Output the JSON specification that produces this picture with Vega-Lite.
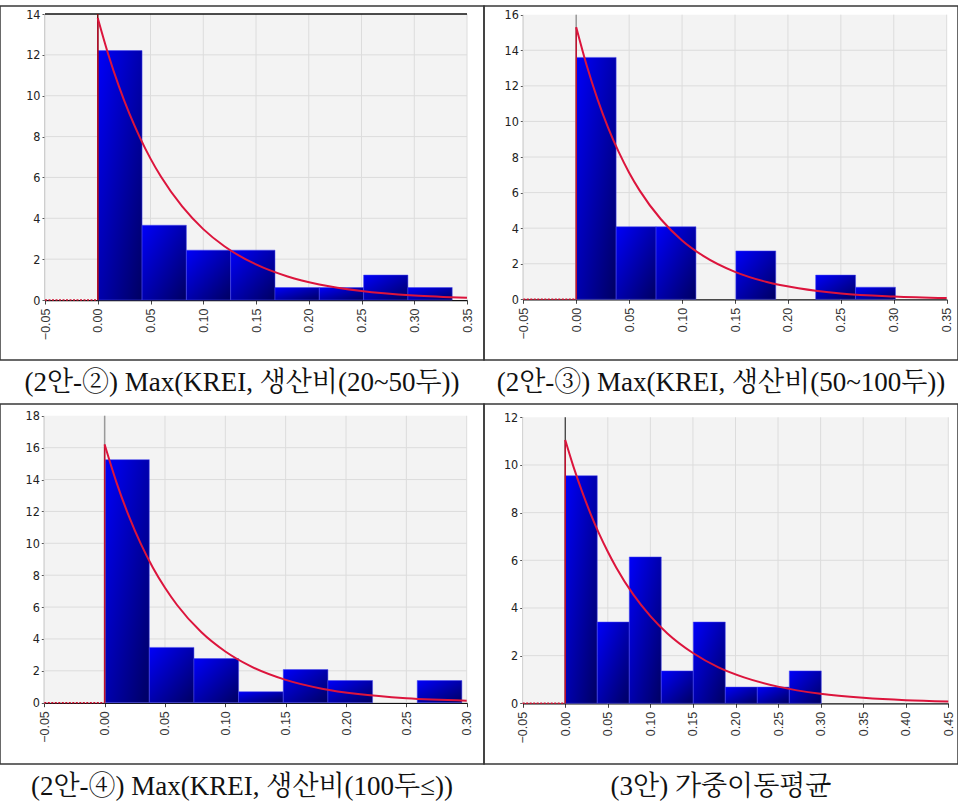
{
  "$schema": "https://vega.github.io/schema/vega-lite/v6.json",
  "background": "white",
  "padding": {"left": -1, "top": 5, "right": 0, "bottom": 0},
  "spacing": 0,
  "bounds": "flush",
  "columns": 2,
  "concat": [
    {
      "width": 484,
      "height": 354,
      "layer": [
        {
          "data": {"values": [{}]},
          "mark": {"type": "rect", "color": "#f3f3f3"},
          "encoding": {
            "x": {"datum": -0.05, "type": "quantitative", "scale": {"domain": [-0.05, 0.35], "range": [45, 467], "nice": false, "zero": false}, "axis": {"title": null, "labelOverlap": false, "values": [-0.05, 0, 0.05, 0.1, 0.15, 0.2, 0.25, 0.3, 0.35], "offset": -60}},
            "x2": {"datum": 0.35},
            "y": {"datum": 0, "type": "quantitative", "scale": {"domain": [0, 14], "range": [294, 8], "nice": false, "zero": false}, "axis": {"title": null, "labelOverlap": false, "values": [0, 2, 4, 6, 8, 10, 12, 14], "offset": -45}},
            "y2": {"datum": 14}
          }
        },
        {
          "data": {"values": [{"t": -0.05}, {"t": 0}, {"t": 0.05}, {"t": 0.1}, {"t": 0.15}, {"t": 0.2}, {"t": 0.25}, {"t": 0.3}, {"t": 0.35}]},
          "mark": {"type": "rule", "color": "#dcdcdc", "strokeWidth": 1},
          "encoding": {"x": {"field": "t", "type": "quantitative"}, "y": {"datum": 0}, "y2": {"datum": 14}}
        },
        {
          "data": {"values": [{"t": 2}, {"t": 4}, {"t": 6}, {"t": 8}, {"t": 10}, {"t": 12}]},
          "mark": {"type": "rule", "color": "#dcdcdc", "strokeWidth": 1},
          "encoding": {"y": {"field": "t", "type": "quantitative"}, "x": {"datum": -0.05}, "x2": {"datum": 0.35}}
        },
        {
          "data": {"values": [{}]},
          "mark": {"type": "rule", "color": "#111111", "strokeWidth": 1.5},
          "encoding": {"y": {"datum": 14}, "x": {"datum": -0.05}, "x2": {"datum": 0.35}}
        },
        {
          "data": {"values": [
            {"lo": 0, "hi": 0.042, "density": 12.21},
            {"lo": 0.042, "hi": 0.084, "density": 3.66},
            {"lo": 0.084, "hi": 0.126, "density": 2.44},
            {"lo": 0.126, "hi": 0.168, "density": 2.44},
            {"lo": 0.168, "hi": 0.21, "density": 0.61},
            {"lo": 0.21, "hi": 0.252, "density": 0.61},
            {"lo": 0.252, "hi": 0.294, "density": 1.22},
            {"lo": 0.294, "hi": 0.336, "density": 0.61}
          ]},
          "mark": {"type": "rect", "stroke": "#4848f0", "strokeWidth": 0.5, "color": {"gradient": "linear", "x1": 0, "y1": 0, "x2": 1, "y2": 1, "stops": [{"offset": 0, "color": "#0000fa"}, {"offset": 1, "color": "#000062"}]}},
          "encoding": {"x": {"field": "lo", "type": "quantitative"}, "x2": {"field": "hi"}, "y": {"field": "density", "type": "quantitative"}, "y2": {"datum": 0}}
        },
        {
          "data": {"values": [{}]},
          "mark": {"type": "rule", "color": "#7a1010", "strokeWidth": 1.5},
          "encoding": {"x": {"datum": 0}, "y": {"datum": 0}, "y2": {"datum": 14}}
        },
        {
          "data": {"values": [{}]},
          "mark": {"type": "rule", "color": "#d01030", "strokeWidth": 1.5, "strokeDash": [2, 1.5]},
          "encoding": {"x": {"datum": -0.05}, "x2": {"datum": 0}, "y": {"datum": 0}}
        },
        {
          "data": {"values": [{}]},
          "mark": {"type": "rule", "color": "#b0102a", "strokeWidth": 1.5},
          "encoding": {"x": {"datum": 0}, "y": {"datum": 0}, "y2": {"datum": 13.8}}
        },
        {
          "data": {"values": [
            {"x": 0, "density": 13.8}, {"x": 0.01, "density": 12.02}, {"x": 0.02, "density": 10.47}, {"x": 0.03, "density": 9.12},
            {"x": 0.04, "density": 7.95}, {"x": 0.05, "density": 6.92}, {"x": 0.06, "density": 6.03}, {"x": 0.08, "density": 4.58},
            {"x": 0.1, "density": 3.47}, {"x": 0.12, "density": 2.63}, {"x": 0.15, "density": 1.74}, {"x": 0.18, "density": 1.15},
            {"x": 0.21, "density": 0.76}, {"x": 0.25, "density": 0.44}, {"x": 0.3, "density": 0.22}, {"x": 0.35, "density": 0.11}
          ]},
          "mark": {"type": "line", "color": "#dc143c", "strokeWidth": 2, "interpolate": "monotone"},
          "encoding": {"x": {"field": "x", "type": "quantitative"}, "y": {"field": "density", "type": "quantitative"}}
        }
      ]
    },
    {
      "width": 474,
      "height": 354,
      "layer": [
        {
          "data": {"values": [{}]},
          "mark": {"type": "rect", "color": "#f3f3f3"},
          "encoding": {
            "x": {"datum": -0.05, "type": "quantitative", "scale": {"domain": [-0.05, 0.35], "range": [39.3, 462.7], "nice": false, "zero": false}, "axis": {"title": null, "labelOverlap": false, "values": [-0.05, 0, 0.05, 0.1, 0.15, 0.2, 0.25, 0.3, 0.35], "offset": -60.7}},
            "x2": {"datum": 0.35},
            "y": {"datum": 0, "type": "quantitative", "scale": {"domain": [0, 16], "range": [293.3, 8.7], "nice": false, "zero": false}, "axis": {"title": null, "labelOverlap": false, "values": [0, 2, 4, 6, 8, 10, 12, 14, 16], "offset": -39.3}},
            "y2": {"datum": 16}
          }
        },
        {
          "data": {"values": [{"t": -0.05}, {"t": 0}, {"t": 0.05}, {"t": 0.1}, {"t": 0.15}, {"t": 0.2}, {"t": 0.25}, {"t": 0.3}, {"t": 0.35}]},
          "mark": {"type": "rule", "color": "#dcdcdc", "strokeWidth": 1},
          "encoding": {"x": {"field": "t", "type": "quantitative"}, "y": {"datum": 0}, "y2": {"datum": 16}}
        },
        {
          "data": {"values": [{"t": 2}, {"t": 4}, {"t": 6}, {"t": 8}, {"t": 10}, {"t": 12}, {"t": 14}]},
          "mark": {"type": "rule", "color": "#dcdcdc", "strokeWidth": 1},
          "encoding": {"y": {"field": "t", "type": "quantitative"}, "x": {"datum": -0.05}, "x2": {"datum": 0.35}}
        },
        {
          "data": {"values": [
            {"lo": 0, "hi": 0.0377, "density": 13.6},
            {"lo": 0.0377, "hi": 0.0754, "density": 4.08},
            {"lo": 0.0754, "hi": 0.1131, "density": 4.08},
            {"lo": 0.1508, "hi": 0.1885, "density": 2.72},
            {"lo": 0.2262, "hi": 0.2639, "density": 1.36},
            {"lo": 0.2639, "hi": 0.3016, "density": 0.68}
          ]},
          "mark": {"type": "rect", "stroke": "#4848f0", "strokeWidth": 0.5, "color": {"gradient": "linear", "x1": 0, "y1": 0, "x2": 1, "y2": 1, "stops": [{"offset": 0, "color": "#0000fa"}, {"offset": 1, "color": "#000062"}]}},
          "encoding": {"x": {"field": "lo", "type": "quantitative"}, "x2": {"field": "hi"}, "y": {"field": "density", "type": "quantitative"}, "y2": {"datum": 0}}
        },
        {
          "data": {"values": [{}]},
          "mark": {"type": "rule", "color": "#9a9a9a", "strokeWidth": 1.5},
          "encoding": {"x": {"datum": 0}, "y": {"datum": 0}, "y2": {"datum": 16}}
        },
        {
          "data": {"values": [{}]},
          "mark": {"type": "rule", "color": "#d01030", "strokeWidth": 1.5, "strokeDash": [2, 1.5]},
          "encoding": {"x": {"datum": -0.05}, "x2": {"datum": 0}, "y": {"datum": 0}}
        },
        {
          "data": {"values": [{}]},
          "mark": {"type": "rule", "color": "#c0102e", "strokeWidth": 1.5},
          "encoding": {"x": {"datum": 0}, "y": {"datum": 0}, "y2": {"datum": 15.3}}
        },
        {
          "data": {"values": [
            {"x": 0, "density": 15.3}, {"x": 0.01, "density": 13.13}, {"x": 0.02, "density": 11.27}, {"x": 0.03, "density": 9.67},
            {"x": 0.04, "density": 8.3}, {"x": 0.05, "density": 7.12}, {"x": 0.06, "density": 6.11}, {"x": 0.08, "density": 4.5},
            {"x": 0.1, "density": 3.31}, {"x": 0.12, "density": 2.44}, {"x": 0.15, "density": 1.54}, {"x": 0.18, "density": 0.97},
            {"x": 0.21, "density": 0.62}, {"x": 0.25, "density": 0.33}, {"x": 0.3, "density": 0.16}, {"x": 0.35, "density": 0.07}
          ]},
          "mark": {"type": "line", "color": "#dc143c", "strokeWidth": 2, "interpolate": "monotone"},
          "encoding": {"x": {"field": "x", "type": "quantitative"}, "y": {"field": "density", "type": "quantitative"}}
        }
      ]
    },
    {
      "width": 484,
      "height": 44,
      "data": {"values": [{"caption": "(2안-②) Max(KREI, 생산비(20~50두))"}]},
      "mark": {"type": "text", "font": "Liberation Serif, Noto Serif CJK KR, Noto Sans CJK KR", "fontSize": 27, "color": "#111111", "dy": 1},
      "encoding": {"text": {"field": "caption"}}
    },
    {
      "width": 474,
      "height": 44,
      "data": {"values": [{"caption": "(2안-③) Max(KREI, 생산비(50~100두))"}]},
      "mark": {"type": "text", "font": "Liberation Serif, Noto Serif CJK KR, Noto Sans CJK KR", "fontSize": 27, "color": "#111111", "dy": 1},
      "encoding": {"text": {"field": "caption"}}
    },
    {
      "width": 484,
      "height": 360,
      "layer": [
        {
          "data": {"values": [{}]},
          "mark": {"type": "rect", "color": "#f3f3f3"},
          "encoding": {
            "x": {"datum": -0.05, "type": "quantitative", "scale": {"domain": [-0.05, 0.3], "range": [44.3, 466.7], "nice": false, "zero": false}, "axis": {"title": null, "labelOverlap": false, "values": [-0.05, 0, 0.05, 0.1, 0.15, 0.2, 0.25, 0.3], "offset": -61.3}},
            "x2": {"datum": 0.3},
            "y": {"datum": 0, "type": "quantitative", "scale": {"domain": [0, 18], "range": [298.7, 11.8], "nice": false, "zero": false}, "axis": {"title": null, "labelOverlap": false, "values": [0, 2, 4, 6, 8, 10, 12, 14, 16, 18], "offset": -44.3}},
            "y2": {"datum": 18}
          }
        },
        {
          "data": {"values": [{"t": -0.05}, {"t": 0}, {"t": 0.05}, {"t": 0.1}, {"t": 0.15}, {"t": 0.2}, {"t": 0.25}, {"t": 0.3}]},
          "mark": {"type": "rule", "color": "#dcdcdc", "strokeWidth": 1},
          "encoding": {"x": {"field": "t", "type": "quantitative"}, "y": {"datum": 0}, "y2": {"datum": 18}}
        },
        {
          "data": {"values": [{"t": 2}, {"t": 4}, {"t": 6}, {"t": 8}, {"t": 10}, {"t": 12}, {"t": 14}, {"t": 16}]},
          "mark": {"type": "rule", "color": "#dcdcdc", "strokeWidth": 1},
          "encoding": {"y": {"field": "t", "type": "quantitative"}, "x": {"datum": -0.05}, "x2": {"datum": 0.3}}
        },
        {
          "data": {"values": [
            {"lo": 0, "hi": 0.037, "density": 15.25},
            {"lo": 0.037, "hi": 0.074, "density": 3.47},
            {"lo": 0.074, "hi": 0.111, "density": 2.77},
            {"lo": 0.111, "hi": 0.148, "density": 0.69},
            {"lo": 0.148, "hi": 0.185, "density": 2.08},
            {"lo": 0.185, "hi": 0.222, "density": 1.39},
            {"lo": 0.259, "hi": 0.296, "density": 1.39}
          ]},
          "mark": {"type": "rect", "stroke": "#4848f0", "strokeWidth": 0.5, "color": {"gradient": "linear", "x1": 0, "y1": 0, "x2": 1, "y2": 1, "stops": [{"offset": 0, "color": "#0000fa"}, {"offset": 1, "color": "#000062"}]}},
          "encoding": {"x": {"field": "lo", "type": "quantitative"}, "x2": {"field": "hi"}, "y": {"field": "density", "type": "quantitative"}, "y2": {"datum": 0}}
        },
        {
          "data": {"values": [{}]},
          "mark": {"type": "rule", "color": "#9a9a9a", "strokeWidth": 1.5},
          "encoding": {"x": {"datum": 0}, "y": {"datum": 0}, "y2": {"datum": 18}}
        },
        {
          "data": {"values": [{}]},
          "mark": {"type": "rule", "color": "#d01030", "strokeWidth": 1.5, "strokeDash": [2, 1.5]},
          "encoding": {"x": {"datum": -0.05}, "x2": {"datum": 0}, "y": {"datum": 0}}
        },
        {
          "data": {"values": [{}]},
          "mark": {"type": "rule", "color": "#c0102e", "strokeWidth": 1.5},
          "encoding": {"x": {"datum": 0}, "y": {"datum": 0}, "y2": {"datum": 16.2}}
        },
        {
          "data": {"values": [
            {"x": 0, "density": 16.2}, {"x": 0.01, "density": 13.78}, {"x": 0.02, "density": 11.72}, {"x": 0.03, "density": 9.96},
            {"x": 0.04, "density": 8.47}, {"x": 0.05, "density": 7.21}, {"x": 0.06, "density": 6.13}, {"x": 0.08, "density": 4.43},
            {"x": 0.1, "density": 3.21}, {"x": 0.12, "density": 2.32}, {"x": 0.15, "density": 1.43}, {"x": 0.18, "density": 0.88},
            {"x": 0.21, "density": 0.54}, {"x": 0.25, "density": 0.28}, {"x": 0.3, "density": 0.13}
          ]},
          "mark": {"type": "line", "color": "#dc143c", "strokeWidth": 2, "interpolate": "monotone"},
          "encoding": {"x": {"field": "x", "type": "quantitative"}, "y": {"field": "density", "type": "quantitative"}}
        }
      ]
    },
    {
      "width": 474,
      "height": 360,
      "layer": [
        {
          "data": {"values": [{}]},
          "mark": {"type": "rect", "color": "#f3f3f3"},
          "encoding": {
            "x": {"datum": -0.05, "type": "quantitative", "scale": {"domain": [-0.05, 0.45], "range": [38.7, 464.3], "nice": false, "zero": false}, "axis": {"title": null, "labelOverlap": false, "values": [-0.05, 0, 0.05, 0.1, 0.15, 0.2, 0.25, 0.3, 0.35, 0.4, 0.45], "offset": -60.7}},
            "x2": {"datum": 0.45},
            "y": {"datum": 0, "type": "quantitative", "scale": {"domain": [0, 12], "range": [299.3, 13.3], "nice": false, "zero": false}, "axis": {"title": null, "labelOverlap": false, "values": [0, 2, 4, 6, 8, 10, 12], "offset": -38.7}},
            "y2": {"datum": 12}
          }
        },
        {
          "data": {"values": [{"t": -0.05}, {"t": 0}, {"t": 0.05}, {"t": 0.1}, {"t": 0.15}, {"t": 0.2}, {"t": 0.25}, {"t": 0.3}, {"t": 0.35}, {"t": 0.4}, {"t": 0.45}]},
          "mark": {"type": "rule", "color": "#dcdcdc", "strokeWidth": 1},
          "encoding": {"x": {"field": "t", "type": "quantitative"}, "y": {"datum": 0}, "y2": {"datum": 12}}
        },
        {
          "data": {"values": [{"t": 2}, {"t": 4}, {"t": 6}, {"t": 8}, {"t": 10}]},
          "mark": {"type": "rule", "color": "#dcdcdc", "strokeWidth": 1},
          "encoding": {"y": {"field": "t", "type": "quantitative"}, "x": {"datum": -0.05}, "x2": {"datum": 0.45}}
        },
        {
          "data": {"values": [
            {"lo": 0, "hi": 0.0376, "density": 9.55},
            {"lo": 0.0376, "hi": 0.0752, "density": 3.41},
            {"lo": 0.0752, "hi": 0.1128, "density": 6.14},
            {"lo": 0.1128, "hi": 0.1504, "density": 1.36},
            {"lo": 0.1504, "hi": 0.188, "density": 3.41},
            {"lo": 0.188, "hi": 0.2256, "density": 0.68},
            {"lo": 0.2256, "hi": 0.2632, "density": 0.68},
            {"lo": 0.2632, "hi": 0.3008, "density": 1.36}
          ]},
          "mark": {"type": "rect", "stroke": "#4848f0", "strokeWidth": 0.5, "color": {"gradient": "linear", "x1": 0, "y1": 0, "x2": 1, "y2": 1, "stops": [{"offset": 0, "color": "#0000fa"}, {"offset": 1, "color": "#000062"}]}},
          "encoding": {"x": {"field": "lo", "type": "quantitative"}, "x2": {"field": "hi"}, "y": {"field": "density", "type": "quantitative"}, "y2": {"datum": 0}}
        },
        {
          "data": {"values": [{}]},
          "mark": {"type": "rule", "color": "#333333", "strokeWidth": 1.2},
          "encoding": {"x": {"datum": 0}, "y": {"datum": 0}, "y2": {"datum": 12}}
        },
        {
          "data": {"values": [{}]},
          "mark": {"type": "rule", "color": "#d01030", "strokeWidth": 1.5, "strokeDash": [2, 1.5]},
          "encoding": {"x": {"datum": -0.05}, "x2": {"datum": 0}, "y": {"datum": 0}}
        },
        {
          "data": {"values": [{}]},
          "mark": {"type": "rule", "color": "#c0102e", "strokeWidth": 1.5},
          "encoding": {"x": {"datum": 0}, "y": {"datum": 0}, "y2": {"datum": 11.05}}
        },
        {
          "data": {"values": [
            {"x": 0, "density": 11.05}, {"x": 0.01, "density": 9.89}, {"x": 0.02, "density": 8.86}, {"x": 0.03, "density": 7.93},
            {"x": 0.04, "density": 7.1}, {"x": 0.05, "density": 6.36}, {"x": 0.06, "density": 5.69}, {"x": 0.08, "density": 4.56},
            {"x": 0.1, "density": 3.66}, {"x": 0.12, "density": 2.93}, {"x": 0.15, "density": 2.11}, {"x": 0.18, "density": 1.51},
            {"x": 0.21, "density": 1.09}, {"x": 0.25, "density": 0.7}, {"x": 0.3, "density": 0.4}, {"x": 0.35, "density": 0.23},
            {"x": 0.4, "density": 0.13}, {"x": 0.45, "density": 0.08}
          ]},
          "mark": {"type": "line", "color": "#dc143c", "strokeWidth": 2, "interpolate": "monotone"},
          "encoding": {"x": {"field": "x", "type": "quantitative"}, "y": {"field": "density", "type": "quantitative"}}
        }
      ]
    },
    {
      "width": 484,
      "height": 44,
      "data": {"values": [{"caption": "(2안-④) Max(KREI, 생산비(100두≤))"}]},
      "mark": {"type": "text", "font": "Liberation Serif, Noto Serif CJK KR, Noto Sans CJK KR", "fontSize": 27, "color": "#111111", "dy": 1},
      "encoding": {"text": {"field": "caption"}}
    },
    {
      "width": 474,
      "height": 44,
      "data": {"values": [{"caption": "(3안) 가중이동평균"}]},
      "mark": {"type": "text", "font": "Liberation Serif, Noto Serif CJK KR, Noto Sans CJK KR", "fontSize": 27, "color": "#111111", "dy": 1},
      "encoding": {"text": {"field": "caption"}}
    }
  ],
  "config": {
    "view": {"stroke": "#383838", "strokeWidth": 1.5},
    "axis": {"grid": false, "labelFlush": false, "labelOverlap": false, "labelBound": false, "zindex": 1, "tickCount": 20},
    "axisX": {
      "format": ".2f",
      "labelAngle": -90,
      "labelFont": "Liberation Sans",
      "labelFontSize": 12.5,
      "labelColor": "#333333",
      "labelPadding": 4,
      "domainColor": "#111111",
      "domainWidth": 1.5,
      "tickColor": "#444444",
      "tickSize": 4
    },
    "axisY": {
      "format": "d",
      "labelFont": "Liberation Sans Narrow, DejaVu Sans Condensed, Liberation Sans",
      "labelFontSize": 12.5,
      "labelColor": "#222222",
      "labelPadding": 2,
      "domainColor": "#808080",
      "domainWidth": 2,
      "tickColor": "#555555",
      "tickSize": 3
    }
  }
}
